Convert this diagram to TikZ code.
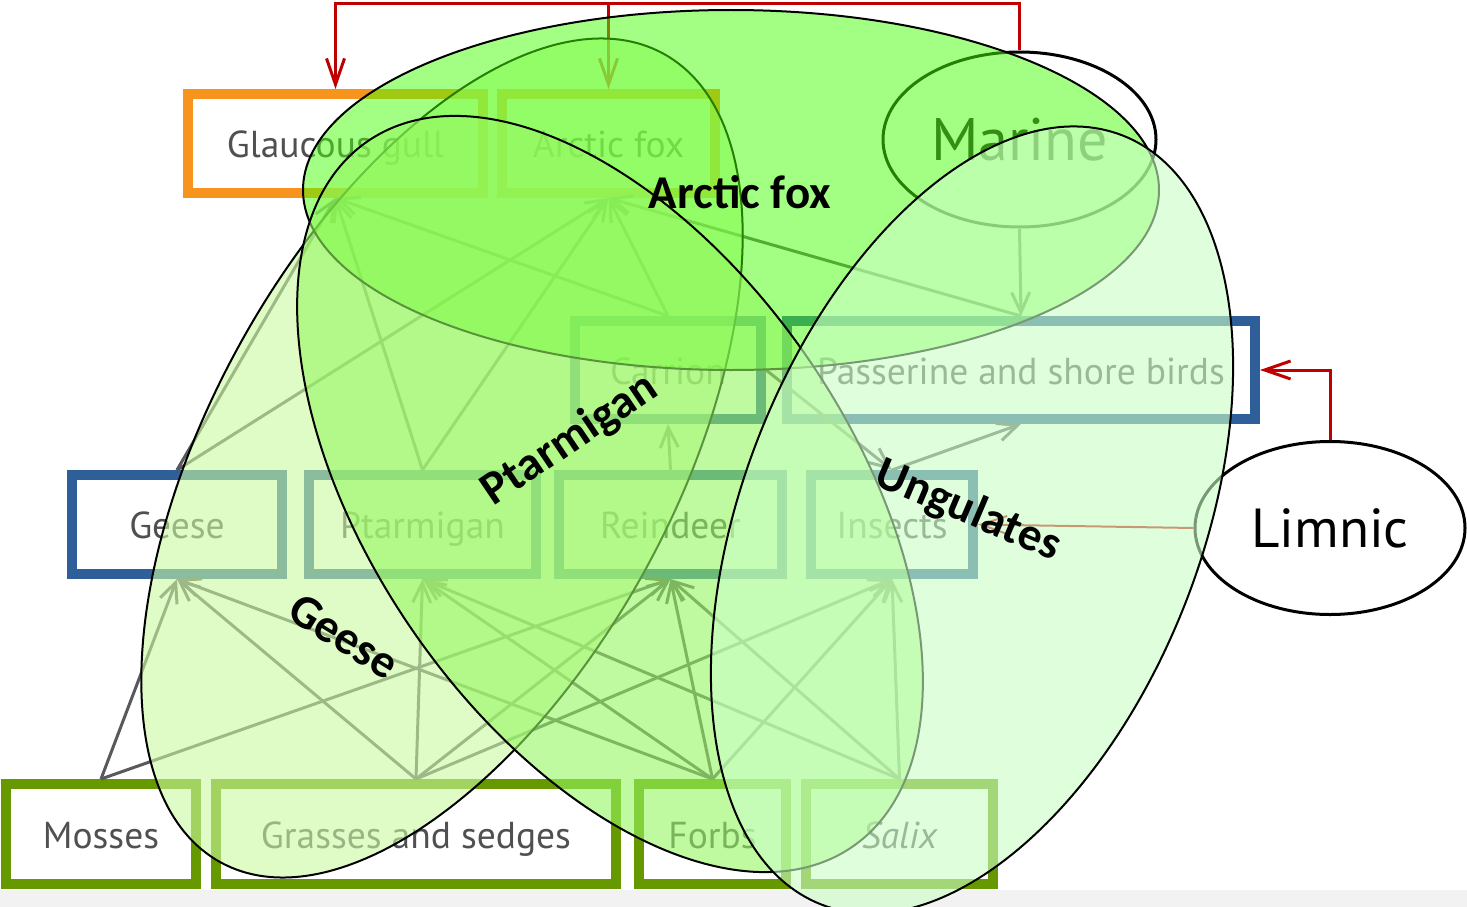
\documentclass[tikz,border=0pt]{standalone}
\usepackage{fontspec}
\setmainfont{PT Sans}
\newfontfamily\lblfont{Carlito}
\usetikzlibrary{arrows.meta,shapes.geometric}
\definecolor{boxorange}{HTML}{F7941D}
\definecolor{boxblue}{HTML}{2E5F98}
\definecolor{boxgreen}{HTML}{669900}
\definecolor{linkgray}{HTML}{58595C}
\definecolor{linkred}{HTML}{C00000}
\definecolor{txtgray}{HTML}{505052}
\definecolor{marinetxt}{HTML}{1E1E1E}
\definecolor{ovgeese}{HTML}{CBFAA3}
\definecolor{ovfox}{HTML}{49FF09}
\definecolor{ovptarm}{HTML}{95F761}
\definecolor{ovungul}{HTML}{CBFFC5}
\definecolor{stripgray}{HTML}{F2F2F2}
\begin{document}
\begin{tikzpicture}[x=1pt,y=-1pt,
  box/.style={draw, line width=10pt, fill=white, inner sep=0pt, text=txtgray, text height=28pt, text depth=0pt, font=\fontsize{37.5}{44}\selectfont},
  orangebox/.style={box, draw=boxorange},
  bluebox/.style={box, draw=boxblue},
  greenbox/.style={box, draw=boxgreen},
  habitat/.style={ellipse, draw=black, line width=3pt, fill=white, inner sep=0pt},
  feed/.style={draw=linkgray, line width=3pt, -{Straight Barb[length=20pt,width=18pt]}},
  redfeed/.style={draw=linkred, line width=3pt, -{Straight Barb[length=26pt,width=18pt]}},
  hilite/.style={draw=black, line width=2pt, fill opacity=0.6},
  grouplabel/.style={font=\lblfont\bfseries\fontsize{47}{56}\selectfont, text=black, inner sep=0pt}
]
\useasboundingbox (0,0) rectangle (1467,907);
\fill[white] (0,0) rectangle (1467,907);
\fill[stripgray] (0,890) rectangle (1467,907);

% boxes
\node[orangebox, minimum width=295pt, minimum height=99pt] (glaucous) at (335.5,143.5) {Glaucous gull};
\node[orangebox, minimum width=213pt, minimum height=99pt] (foxbox) at (608.5,143.5) {Arctic fox};
\node[bluebox, minimum width=186pt, minimum height=98pt] (carrion) at (668,370) {Carrion};
\node[bluebox, minimum width=468pt, minimum height=98pt] (passerine) at (1021,370) {Passerine and shore birds};
\node[bluebox, minimum width=210pt, minimum height=99pt] (geese) at (177,524.5) {Geese};
\node[bluebox, minimum width=227pt, minimum height=99pt] (ptarm) at (422.5,524.5) {Ptarmigan};
\node[bluebox, minimum width=223pt, minimum height=99pt] (reindeer) at (670.5,524.5) {Reindeer};
\node[bluebox, minimum width=162pt, minimum height=99pt] (insects) at (892,524.5) {Insects};
\node[greenbox, minimum width=190pt, minimum height=100pt] (mosses) at (101,834) {Mosses};
\node[greenbox, minimum width=400pt, minimum height=100pt] (grasses) at (416,834) {Grasses and sedges};
\node[greenbox, minimum width=147pt, minimum height=100pt] (forbs) at (712.5,834) {Forbs};
\node[greenbox, minimum width=187pt, minimum height=100pt] (salix) at (899.5,834) {\itshape Salix};

\node[habitat, minimum width=273pt, minimum height=175pt, text=marinetxt, font=\fontsize{60}{70}\selectfont] (marine) at (1019.5,139.5) {Marine};
\node[habitat, minimum width=270pt, minimum height=173pt, text=black, font=\fontsize{55}{64}\selectfont] (limnic) at (1330,528) {Limnic};

\coordinate (topbar) at (0,4);

% red links
\draw[redfeed] (marine.north) -- (marine.north |- topbar) -| (glaucous.north);
\draw[redfeed] (foxbox.north |- topbar) -- (foxbox.north);
\draw[redfeed] (limnic.north) |- (passerine.east);
\draw[redfeed, line width=2pt] (limnic.west) -- (insects.east);

% feeding links
\draw[feed] (mosses.north) -- (geese.south);
\draw[feed] (mosses.north) -- (reindeer.south);
\draw[feed] (grasses.north) -- (geese.south);
\draw[feed] (grasses.north) -- (ptarm.south);
\draw[feed] (grasses.north) -- (reindeer.south);
\draw[feed] (grasses.north) -- (insects.south);
\draw[feed] (forbs.north) -- (geese.south);
\draw[feed] (forbs.north) -- (ptarm.south);
\draw[feed] (forbs.north) -- (reindeer.south);
\draw[feed] (forbs.north) -- (insects.south);
\draw[feed] (salix.north) -- (ptarm.south);
\draw[feed] (salix.north) -- (reindeer.south);
\draw[feed] (salix.north) -- (insects.south);
\draw[feed] (geese.north) -- (glaucous.south);
\draw[feed] (geese.north) -- (foxbox.south);
\draw[feed] (ptarm.north) -- (glaucous.south);
\draw[feed] (ptarm.north) -- (foxbox.south);
\draw[feed] (carrion.north) -- (glaucous.south);
\draw[feed] (carrion.north) -- (foxbox.south);
\draw[feed] (passerine.north) -- (foxbox.south);
\draw[feed] (reindeer.north) -- (carrion.south);
\draw[feed] (carrion.east) -- (insects.north);
\draw[feed] (insects.north) -- (passerine.south);
\draw[feed] (marine.south) -- (passerine.north);

% highlighted groups
\draw[hilite, fill=ovgeese, rotate around={61.3:(442,458)}] (442,458) ellipse [x radius=461, y radius=232];
\draw[hilite, fill=ovfox, fill opacity=0.5] (731,190) ellipse [x radius=428, y radius=180];
\draw[hilite, fill=ovptarm, rotate around={-55.5:(610,494)}] (610,494) ellipse [x radius=428, y radius=240];
\draw[hilite, fill=ovungul, rotate around={68.6:(972,520)}] (972,520) ellipse [x radius=413, y radius=229];

\node[grouplabel] (lblfox) at (740,192) {Arctic fox};
\node[grouplabel, rotate=34] (lblptarm) at (570,440) {Ptarmigan};
\node[grouplabel, rotate=-32] (lblgeese) at (344,636) {Geese};
\node[grouplabel, rotate=-23] (lblungul) at (968,511) {Ungulates};
\end{tikzpicture}
\end{document}
